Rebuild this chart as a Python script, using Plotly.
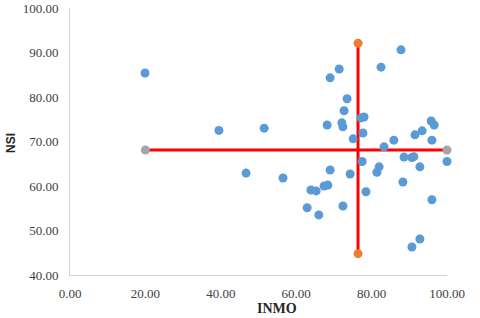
import plotly.graph_objects as go

inmo = [19.9, 39.5, 51.5, 46.7, 56.5, 69.0, 74.3, 77.5, 78.5, 81.4, 82.0, 88.6, 90.7, 91.2,
        92.8, 100.0, 88.3, 96.0, 92.8, 90.7, 63.9, 65.3, 67.4, 68.4, 62.9, 66.0, 72.4,
        87.8, 82.5, 71.4, 69.0, 73.5, 72.7, 77.2, 78.0, 68.2, 72.1, 72.4, 75.1, 77.7,
        83.3, 85.9, 91.5, 93.4, 95.8, 96.6, 96.0]
nsi = [85.4, 72.5, 73.0, 62.9, 61.8, 63.6, 62.7, 65.5, 58.7, 63.1, 64.3, 66.5, 66.4, 66.6,
       64.3, 65.5, 60.9, 56.9, 48.1, 46.3, 59.1, 58.9, 60.0, 60.2, 55.1, 53.5, 55.5,
       90.6, 86.7, 86.3, 84.3, 79.6, 76.9, 75.3, 75.5, 73.7, 74.2, 73.3, 70.6, 71.9,
       68.8, 70.3, 71.5, 72.4, 74.6, 73.7, 70.3]

# reference lines
h_line_x = [20.0, 100.0]
h_line_y = [68.1, 68.1]
v_line_x = [76.4, 76.4]
v_line_y = [44.8, 92.1]

x_ticks = [0, 20, 40, 60, 80, 100]
y_ticks = [40, 50, 60, 70, 80, 90, 100]

fig = go.Figure()
fig.add_trace(go.Scatter(x=h_line_x, y=h_line_y, mode="lines+markers",
                         line=dict(color="#FF0000", width=3),
                         marker=dict(color="#A5A5A5", size=9), cliponaxis=False,
                         showlegend=False))
fig.add_trace(go.Scatter(x=v_line_x, y=v_line_y, mode="lines+markers",
                         line=dict(color="#FF0000", width=3),
                         marker=dict(color="#ED7D31", size=9), cliponaxis=False,
                         showlegend=False))
fig.add_trace(go.Scatter(x=inmo, y=nsi, mode="markers",
                         marker=dict(color="#5B9BD5", size=9), cliponaxis=False,
                         showlegend=False))

tickfont = dict(family="Liberation Serif, Times New Roman, serif", size=13, color="#404040")
fig.update_xaxes(range=[0, 100], tickvals=x_ticks, automargin=False,
                 ticktext=[f"{v:.2f}" for v in x_ticks], tickfont=tickfont,
                 showgrid=False, zeroline=False, showline=True, linecolor="#D0D0D0",
                 linewidth=1, ticks="", ticklabelstandoff=6)
fig.update_yaxes(range=[40, 100], tickvals=y_ticks, automargin=False,
                 ticktext=[f"{v:.2f}" for v in y_ticks], tickfont=tickfont,
                 showgrid=False, zeroline=False, showline=True, linecolor="#D0D0D0",
                 linewidth=1, ticks="", ticklabelstandoff=8)

fig.add_annotation(text="<b>INMO</b>", xref="paper", yref="paper",
                   x=(277 - 70) / 377, y=-(308 - 275) / 267, showarrow=False,
                   font=dict(family="Liberation Serif, Times New Roman, serif", size=14, color="#262626"),
                   xanchor="center", yanchor="middle")
fig.add_annotation(text="<b>NSI</b>", xref="paper", yref="paper",
                   x=-(70 - 11) / 377, y=(275 - 143) / 267, showarrow=False, textangle=-90,
                   font=dict(family="Liberation Sans, Arial, sans-serif", size=12, color="#262626"),
                   xanchor="center", yanchor="middle")

fig.update_layout(width=480, height=318, margin=dict(l=70, r=33, t=8, b=43, autoexpand=False),
                  paper_bgcolor="white", plot_bgcolor="white")

fig.write_html("out.html", config={"displayModeBar": False},
               post_script="document.body.style.margin='0px';")
